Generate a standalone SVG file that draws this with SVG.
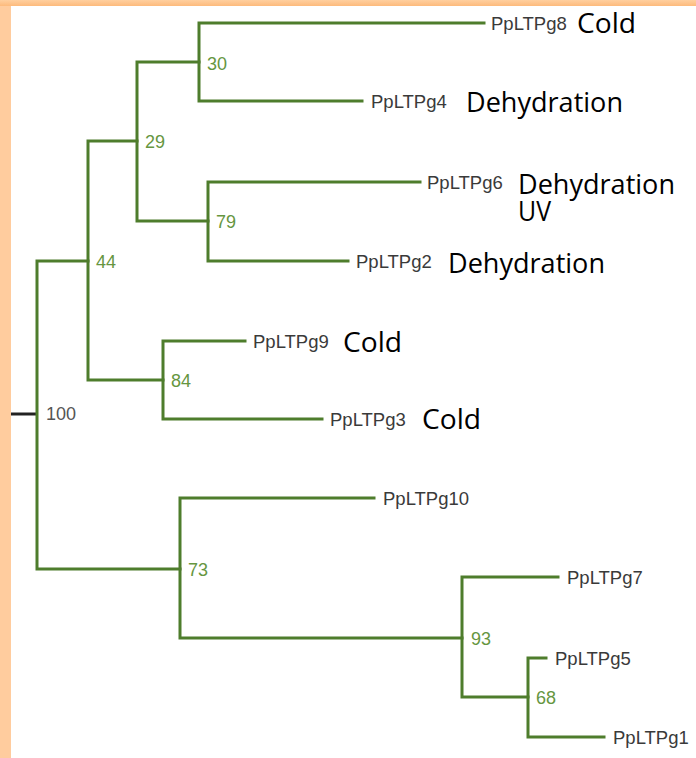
<svg xmlns="http://www.w3.org/2000/svg" width="696" height="758" viewBox="0 0 696 758">
<defs>
<linearGradient id="topg" x1="0" y1="0" x2="0" y2="1">
<stop offset="0" stop-color="#FFCF9F"/>
<stop offset="1" stop-color="#FDBA7C"/>
</linearGradient>
<style>
.br{fill:none;stroke:#4E7D2C;stroke-width:3;stroke-linecap:square;stroke-linejoin:miter}
.root{fill:none;stroke:#222;stroke-width:3}
.lf{font-family:"Liberation Sans",Arial,sans-serif;font-size:18.5px;fill:#3a3a3a}
.bs{font-family:"Liberation Sans",Arial,sans-serif;font-size:18px;fill:#66963F}
.bs0{font-family:"Liberation Sans",Arial,sans-serif;font-size:18px;fill:#555}
.an{font-family:"Open Sans","Liberation Sans",sans-serif;font-size:27px;fill:#000}
</style>
</defs>
<rect x="0" y="0" width="696" height="758" fill="#fff"/>
<rect x="0" y="0" width="11" height="758" fill="#FFCC9E"/>
<rect x="0" y="0" width="696" height="6" fill="url(#topg)"/>

<g id="connectors">
<path class="root" d="M11 414 H37"/>
<path class="br" d="M88 261 H37 V569 H180"/>
<path class="br" d="M137 141 H88 V380 H163"/>
<path class="br" d="M199 62 H137 V221 H208"/>
<path class="br" d="M484 23 H199 V101 H362"/>
<path class="br" d="M420 182 H208 V261 H348"/>
<path class="br" d="M245 341 H163 V419 H322"/>
<path class="br" d="M374 498 H180 V638 H462"/>
<path class="br" d="M558 577 H462 V697 H528"/>
<path class="br" d="M546 658 H528 V737 H604"/>
</g>

<g id="n100"><text class="bs0" x="46" y="420">100</text></g>
<g id="n44"><text class="bs" x="96" y="268">44</text></g>
<g id="n29"><text class="bs" x="145" y="148">29</text></g>
<g id="n30"><text class="bs" x="207" y="70">30</text></g>
<g id="n79"><text class="bs" x="216" y="228">79</text></g>
<g id="n84"><text class="bs" x="171" y="387">84</text></g>
<g id="n73"><text class="bs" x="188" y="576">73</text></g>
<g id="n93"><text class="bs" x="471" y="645">93</text></g>
<g id="n68"><text class="bs" x="536" y="704">68</text></g>

<g id="PpLTPg8"><text class="lf" x="491" y="30">PpLTPg8</text><text class="an" x="577" y="33" textLength="59" lengthAdjust="spacingAndGlyphs">Cold</text></g>
<g id="PpLTPg4"><text class="lf" x="371" y="108">PpLTPg4</text><text class="an" x="466" y="112" textLength="157" lengthAdjust="spacingAndGlyphs">Dehydration</text></g>
<g id="PpLTPg6"><text class="lf" x="427" y="189">PpLTPg6</text><text class="an" x="518" y="194" textLength="157" lengthAdjust="spacingAndGlyphs">Dehydration</text><text class="an" x="518" y="221" textLength="33" lengthAdjust="spacingAndGlyphs">UV</text></g>
<g id="PpLTPg2"><text class="lf" x="356" y="268">PpLTPg2</text><text class="an" x="448" y="273" textLength="157" lengthAdjust="spacingAndGlyphs">Dehydration</text></g>
<g id="PpLTPg9"><text class="lf" x="253" y="348">PpLTPg9</text><text class="an" x="343" y="352" textLength="59" lengthAdjust="spacingAndGlyphs">Cold</text></g>
<g id="PpLTPg3"><text class="lf" x="330" y="426">PpLTPg3</text><text class="an" x="422" y="429" textLength="59" lengthAdjust="spacingAndGlyphs">Cold</text></g>
<g id="PpLTPg10"><text class="lf" x="383" y="505">PpLTPg10</text></g>
<g id="PpLTPg7"><text class="lf" x="567" y="584">PpLTPg7</text></g>
<g id="PpLTPg5"><text class="lf" x="555" y="665">PpLTPg5</text></g>
<g id="PpLTPg1"><text class="lf" x="613" y="744">PpLTPg1</text></g>
</svg>
